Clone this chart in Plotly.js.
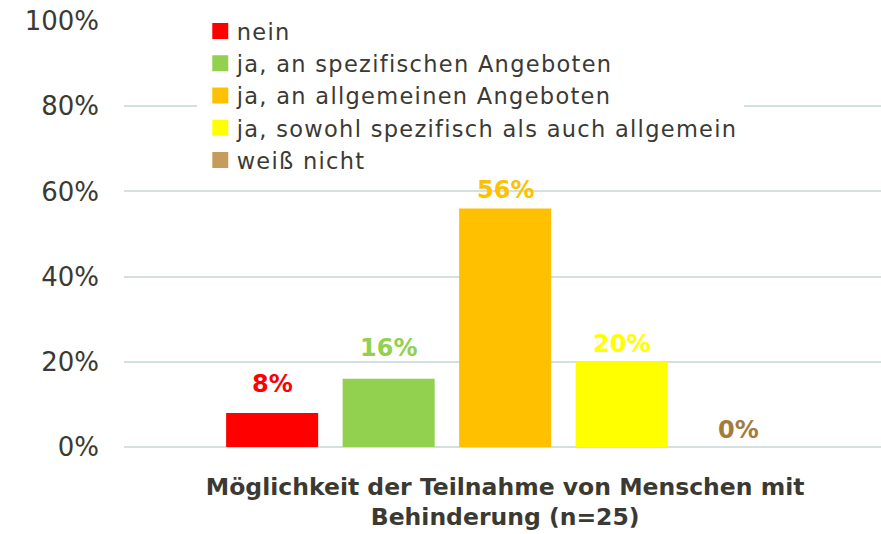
<!DOCTYPE html>
<html>
<head>
<meta charset="utf-8">
<script src="https://cdn.plot.ly/plotly-3.0.1.min.js"></script>
<style>
html,body{margin:0;padding:0;background:#fff;}
#chart{width:881px;height:534px;}
text.legendtext{letter-spacing:1.3px;}
#chart .legendpoints path{transform-box:fill-box;transform-origin:center;scale:1.33;translate:-3px 0;}
</style>
</head>
<body>
<div id="chart"></div>
<script>
const category = ["Möglichkeit der Teilnahme von Menschen mit<br>Behinderung (n=25)"];
const seriesNames = ["nein", "ja, an spezifischen Angeboten", "ja, an allgemeinen Angeboten", "ja, sowohl spezifisch als auch allgemein", "weiß nicht"];
const seriesValues = [0.08, 0.16, 0.56, 0.20, 0.00];
const barColors = ["#FF0000", "#92D050", "#FFC000", "#FFFF00", "#C69C5D"];
const labelColors = ["#FF0000", "#92D050", "#FFC000", "#FFFF00", "#A47B3C"];
const yTickVals = [0, 0.2, 0.4, 0.6, 0.8, 1.0];

const FONT = "DejaVu Sans";
const TEXT = "#3b3a32";
const W = 881, H = 534;
const M = {l: 124, r: 0, t: 21, b: 87};
const BARGAP = 0.2305, BARGROUPGAP = 0.21;
// label offset above bar top (px, style only)
const labelLift = [29, 31, 18, 18, 17];

const traces = seriesNames.map((name, i) => ({
  type: "bar",
  name: name,
  x: category,
  y: [seriesValues[i]],
  marker: {color: barColors[i]},
  hoverinfo: "none"
}));

const plotW = W - M.l - M.r;
const slot = plotW * (1 - BARGAP) / seriesNames.length;
const annotations = seriesNames.map((name, i) => ({
  x: category[0], y: seriesValues[i], xref: "x", yref: "y",
  xshift: (i - (seriesNames.length - 1) / 2) * slot,
  yshift: labelLift[i],
  yanchor: "middle", xanchor: "center",
  showarrow: false,
  text: Math.round(seriesValues[i] * 100) + "%",
  font: {family: FONT, size: 24, color: labelColors[i], weight: "bold"}
}));

const layout = {
  width: W, height: H,
  margin: M,
  paper_bgcolor: "#fff", plot_bgcolor: "#fff",
  font: {family: FONT, color: TEXT},
  barmode: "group",
  bargap: BARGAP,
  bargroupgap: BARGROUPGAP,
  showlegend: true,
  legend: {
    x: 0.096, y: 1.026, xanchor: "left", yanchor: "top",
    bgcolor: "#ffffff",
    font: {family: FONT, size: 22.5, color: TEXT},
    tracegroupgap: 0, itemclick: false
  },
  annotations: annotations,
  xaxis: {
    type: "category",
    range: [-0.5035, 0.4965],
    showgrid: false, zeroline: false, showline: false,
    ticks: "",
    tickfont: {family: FONT, size: 23.5, color: TEXT, weight: "bold"},
    ticklabelstandoff: 23
  },
  yaxis: {
    range: [0, 1],
    tickvals: yTickVals,
    tickformat: ".0%",
    showgrid: true, gridcolor: "#D3E0E0", gridwidth: 2,
    zeroline: true, zerolinecolor: "#D3E0E0", zerolinewidth: 2,
    showline: false, ticks: "",
    tickfont: {family: FONT, size: 26, color: TEXT},
    ticklabelstandoff: 24
  }
};

Plotly.newPlot("chart", traces, layout, {staticPlot: true, displayModeBar: false});
</script>
</body>
</html>
